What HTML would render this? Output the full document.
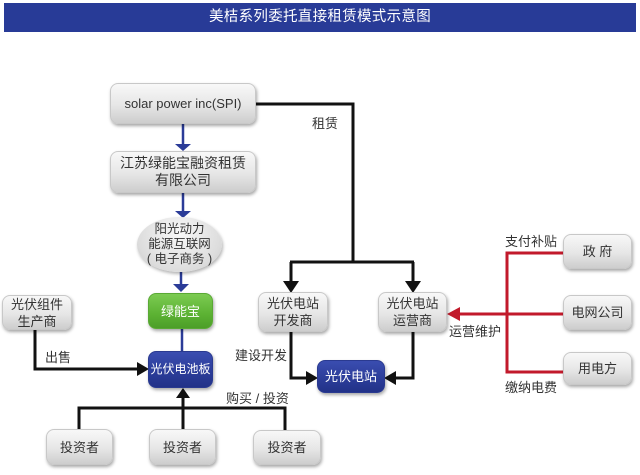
<!DOCTYPE html>
<html><head><meta charset="utf-8">
<style>
html,body{margin:0;padding:0;background:#fff;}
body{width:640px;height:475px;position:relative;overflow:hidden;font-family:"Liberation Sans","Noto Sans CJK SC",sans-serif;}
.title{position:absolute;left:4px;top:3px;width:632px;height:29px;background:#283b97;color:#fff;font-size:14.5px;text-align:center;line-height:29px;letter-spacing:0.3px;}
.b{position:absolute;box-sizing:border-box;border-radius:8px;background:linear-gradient(#f8f8f8,#e6e6e6 55%,#cdcdcd);border:1px solid #c8c8c8;box-shadow:1px 2px 3px rgba(0,0,0,0.35);color:#333;font-size:13px;display:flex;align-items:center;justify-content:center;text-align:center;line-height:17px;white-space:nowrap;padding:0;}
.g{background:linear-gradient(#7ccb52,#5cb233 60%,#4c9e28);border-color:#5aa935;color:#fff;}
.bl{background:linear-gradient(#3a4db0,#2b3c98 60%,#223288);border-color:#2a3a90;color:#fff;}
.e{position:absolute;left:137px;top:217px;width:85px;height:55px;border-radius:50%;background:radial-gradient(ellipse at 50% 30%,#f8f8f8,#dcdcdc 70%,#c4c4c4);box-shadow:1px 2px 3px rgba(0,0,0,0.3);color:#333;font-size:12.5px;line-height:15px;display:flex;align-items:center;justify-content:center;text-align:center;white-space:nowrap;}
.l{position:absolute;font-size:13px;color:#333;white-space:nowrap;}
svg{position:absolute;left:0;top:0;}
</style></head><body>
<div class="title">美桔系列委托直接租赁模式示意图</div>

<svg width="640" height="475">
<g stroke="#111" stroke-width="3" fill="none">
<polyline points="256,104 353,104 353,262"/>
<line x1="290" y1="262" x2="414" y2="262"/>
<line x1="291" y1="262" x2="291" y2="284"/>
<line x1="413" y1="262" x2="413" y2="284"/>
<polyline points="291,332 291,378 309,378"/>
<polyline points="413,332 413,378 393,378"/>
<polyline points="35,330 35,369 140,369"/>
<line x1="183" y1="429" x2="183" y2="396"/>
<polyline points="79,429 79,408 285,408 285,430"/>
</g>
<g fill="#111">
<polygon points="283,281 299,281 291,293"/>
<polygon points="405,281 421,281 413,293"/>
<polygon points="306,371 306,385 318,378"/>
<polygon points="396,371 396,385 384,378"/>
<polygon points="137,362 137,376 149,369"/>
<polygon points="176,398 190,398 183,388"/>
</g>
<g stroke="#2b3c98" stroke-width="2.5" fill="none">
<line x1="183" y1="124" x2="183" y2="146"/>
<line x1="183" y1="193" x2="183" y2="214"/>
<line x1="181" y1="272" x2="181" y2="286"/>
<line x1="182" y1="329" x2="182" y2="351"/>
</g>
<g fill="#2b3c98">
<polygon points="175,144 191,144 183,151"/>
<polygon points="175,211 191,211 183,218"/>
<polygon points="173,284 189,284 181,292"/>
</g>
<g stroke="#c21a2b" stroke-width="3" fill="none">
<polyline points="563,253 507,253 507,372 563,372"/>
<line x1="458" y1="314" x2="563" y2="314"/>
</g>
<polygon fill="#c21a2b" points="447,314 460,307 460,321"/>
</svg>

<div class="b" style="left:110px;top:83px;width:146px;height:41px;">solar power inc(SPI)</div>
<div class="b" style="left:110px;top:151px;width:146px;height:42px;font-size:14px;">江苏绿能宝融资租赁<br>有限公司</div>
<div class="e">阳光动力<br>能源互联网<br>( 电子商务 )</div>
<div class="b g" style="left:148px;top:293px;width:65px;height:36px;">绿能宝</div>
<div class="b bl" style="left:148px;top:351px;width:65px;height:37px;font-size:12px;">光伏电池板</div>
<div class="b" style="left:2px;top:295px;width:70px;height:35px;">光伏组件<br>生产商</div>
<div class="b" style="left:46px;top:429px;width:67px;height:36px;">投资者</div>
<div class="b" style="left:149px;top:429px;width:67px;height:36px;">投资者</div>
<div class="b" style="left:253px;top:430px;width:68px;height:35px;">投资者</div>
<div class="b" style="left:258px;top:292px;width:70px;height:40px;">光伏电站<br>开发商</div>
<div class="b" style="left:378px;top:292px;width:69px;height:40px;">光伏电站<br>运营商</div>
<div class="b bl" style="left:317px;top:360px;width:68px;height:33px;">光伏电站</div>
<div class="b" style="left:563px;top:234px;width:69px;height:35px;">政 府</div>
<div class="b" style="left:563px;top:295px;width:69px;height:35px;">电网公司</div>
<div class="b" style="left:563px;top:352px;width:69px;height:33px;">用电方</div>

<div class="l" style="left:312px;top:113px;">租赁</div>
<div class="l" style="left:45px;top:347px;">出售</div>
<div class="l" style="left:235px;top:345px;">建设开发</div>
<div class="l" style="left:226px;top:388px;">购买 / 投资</div>
<div class="l" style="left:505px;top:231px;">支付补贴</div>
<div class="l" style="left:449px;top:321px;">运营维护</div>
<div class="l" style="left:505px;top:377px;">缴纳电费</div>
</body></html>
